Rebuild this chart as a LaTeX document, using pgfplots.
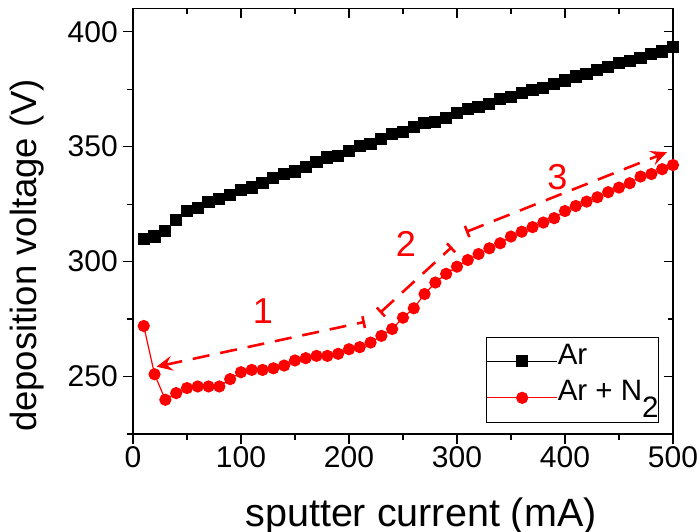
\documentclass[border=0pt]{standalone}
\usepackage{fontspec}
\setmainfont{Liberation Sans}
\usepackage{pgfplots}
\pgfplotsset{compat=1.18}
\usetikzlibrary{arrows.meta}
\begin{document}
\begin{tikzpicture}
\pgfplotsset{
  frame/.style={
    scale only axis, width=540pt, height=425.3pt,
    xmin=0, xmax=500, ymin=225, ymax=410,
    axis line style={line width=1.2pt},
  }
}
% top/right inward ticks
\begin{axis}[frame,
  xtick={0,100,...,500}, minor xtick={50,150,...,450},
  ytick={250,300,...,400}, minor ytick={225,275,...,375},
  tick align=inside, xtick pos=right, ytick pos=right,
  xticklabels={}, yticklabels={},
  major tick length=9pt, minor tick length=5pt,
  tick style={line width=1.2pt, black},
]
\end{axis}
\begin{axis}[frame,
  clip=false,
  xtick={0,100,...,500}, minor xtick={50,150,...,450},
  ytick={250,300,...,400}, minor ytick={225,275,...,375},
  tick align=outside, xtick pos=left, ytick pos=left,
  major tick length=10pt, minor tick length=6pt,
  tick style={line width=1.2pt, black},
  /pgf/number format/assume math mode=true,
  ticklabel style={font=\fontsize{30}{34}\selectfont},
  xticklabel style={anchor=north, inner sep=0pt, yshift=-2pt},
  yticklabel style={anchor=east, inner sep=0pt, xshift=-5pt},
  legend style={at={(0.974,0.028)}, anchor=south east, draw=black, line width=0.6pt,
    inner xsep=0pt, inner ysep=3pt, row sep=-5.3pt,
    font=\fontsize{29.5}{34}\selectfont,
    nodes={inner sep=0pt, text height=24pt, text depth=18pt}},
  legend cell align=left,
  legend image code/.code={\draw[mark repeat=2, mark phase=2, #1] plot coordinates {(0pt,0pt) (35pt,0pt) (70pt,0pt)};},
]
\addplot[black, line width=1.2pt, mark=square*, mark size=5.5pt] coordinates {
(10,310.0) (20,310.9) (30,313.2) (40,318.1) (50,322.0) (60,323.2) (70,326.1) (80,327.1) (90,329.0) (100,331.2)
(110,332.2) (120,334.1) (130,336.3) (140,338.2) (150,339.2) (160,341.3) (170,343.2) (180,345.3) (190,346.1) (200,348.1)
(210,350.3) (220,351.2) (230,353.2) (240,355.4) (250,356.5) (260,358.4) (270,360.2) (280,360.9) (290,362.3) (300,364.5)
(310,366.3) (320,367.1) (330,368.4) (340,370.6) (350,371.5) (360,373.2) (370,374.7) (380,375.4) (390,377.3) (400,378.8)
(410,380.5) (420,381.6) (430,383.2) (440,384.6) (450,386.3) (460,387.3) (470,388.4) (480,390.4) (490,391.4) (500,393.5)
};
\addlegendentry{Ar}
\addplot[red, line width=1.2pt, mark=*, mark size=5.5pt] coordinates {
(10,272.0) (20,251.0) (30,239.9) (40,242.8) (50,245.0) (60,245.7) (70,245.7) (80,245.7) (90,248.9) (100,251.9)
(110,252.9) (120,252.9) (130,253.6) (140,254.8) (150,257.0) (160,258.0) (170,259.0) (180,259.0) (190,259.9) (200,261.9)
(210,262.8) (220,264.8) (230,267.7) (240,270.7) (250,275.6) (260,279.7) (270,285.9) (280,290.9) (290,294.7) (300,297.8)
(310,300.7) (320,303.3) (330,305.8) (340,308.0) (350,310.9) (360,313.0) (370,315.0) (380,317.0) (390,318.9) (400,322.0)
(410,324.2) (420,326.1) (430,328.0) (440,330.2) (450,332.2) (460,334.1) (470,337.0) (480,338.1) (490,340.2) (500,342.0)
};
\addlegendentry{Ar + N\raisebox{-0.55em}{2}}
% arrows
\draw[red, line width=2.6pt, dash pattern=on 17pt off 11pt, {Stealth[length=16pt,width=15pt,inset=6pt]}-{Bar[width=12pt]}]
  (axis cs:21.9,254.3) -- (axis cs:214.8,273.8);
\draw[red, line width=2.6pt, dash pattern=on 17pt off 11pt, {Bar[width=12pt]}-{Bar[width=12pt]}]
  (axis cs:228.7,277.7) -- (axis cs:295.4,306.4);
\draw[red, line width=2.6pt, dash pattern=on 17pt off 11pt, {Bar[width=12pt]}-{Stealth[length=16pt,width=15pt,inset=6pt]}]
  (axis cs:308.3,312.9) -- (axis cs:494.4,347.6);
\node[red, font=\fontsize{36}{40}\selectfont, inner sep=0pt] at (axis cs:120.4,278.6) {1};
\node[red, font=\fontsize{36}{40}\selectfont, inner sep=0pt] at (axis cs:252.8,307.7) {2};
\node[red, font=\fontsize{36}{40}\selectfont, inner sep=0pt] at (axis cs:393,336.6) {3};
% axis labels
\node[anchor=base, font=\fontsize{39.5}{44}\selectfont, inner sep=0pt] at (axis cs:266.7,184.6) {sputter current (mA)};
\node[anchor=base, rotate=90, font=\fontsize{36.5}{40}\selectfont, inner sep=0pt] at (axis cs:-88.9,302.7) {deposition voltage (V)};
\coordinate (bbsw) at (axis cs:-123.1,182.5);
\coordinate (bbne) at (axis cs:524.1,413.8);
\end{axis}
\pgfresetboundingbox
\path[use as bounding box] (bbsw) rectangle (bbne);
\end{tikzpicture}
\end{document}
